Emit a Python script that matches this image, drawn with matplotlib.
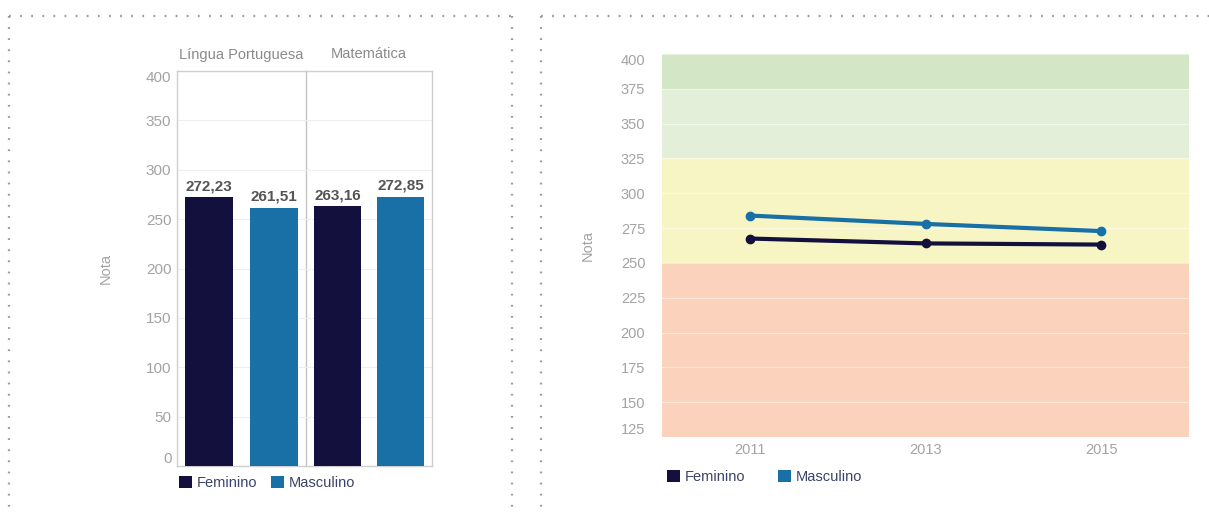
import matplotlib
matplotlib.use("Agg")
import matplotlib.pyplot as plt
from matplotlib.lines import Line2D
from matplotlib.patches import Patch

plt.rcParams['font.family'] = ['Liberation Sans', 'DejaVu Sans']

# ---- data ----
subjects = ['Língua Portuguesa', 'Matemática']
sexes = ['Feminino', 'Masculino']
feminino_bar = [272.23, 263.16]
masculino_bar = [261.51, 272.85]

years = [2011, 2013, 2015]
feminino_line = [267.5, 264.0, 263.16]
masculino_line = [284.0, 278.0, 272.85]

bar_yticks = [0, 50, 100, 150, 200, 250, 300, 350, 400]
line_yticks = [125, 150, 175, 200, 225, 250, 275, 300, 325, 350, 375, 400]
band_edges = [125, 250, 325, 375, 400]
band_colors = ['#fbd3bd', '#f8f5c5', '#e3efd9', '#d3e7c6']

c_fem = '#14103d'
c_mas = '#1870a7'
tick_col = '#a3a3a3'
head_col = '#8a8a8a'

W, H = 1209, 516
fig = plt.figure(figsize=(W / 100, H / 100), dpi=100)


def ax_px(x0, y0, x1, y1):
    return fig.add_axes([x0 / W, 1 - y1 / H, (x1 - x0) / W, (y1 - y0) / H])


def end_labels(ax):
    ticks = ax.yaxis.get_major_ticks()
    ticks[0].label1.set_va('bottom')
    ticks[-1].label1.set_va('top')


# ---- dotted panel borders ----
dot = dict(color='#9a9a9a', linewidth=1.6, linestyle=(0, (0.8, 4.2)), transform=None)
def px_line(xs, ys):
    fig.add_artist(Line2D([x for x in xs], [H - y for y in ys], **dot))

px_line([9, 512], [16, 16])
px_line([9, 9], [16, 516])
px_line([512, 512], [16, 516])
px_line([541, 1209], [16, 16])
px_line([541, 541], [16, 516])

# ---- left: faceted bar chart ----
facets = [(177, 306), (306, 432)]
bar_axes = []
for i, (x0, x1) in enumerate(facets):
    ax = ax_px(x0, 71, x1, 466)
    bar_axes.append(ax)
    vals = [feminino_bar[i], masculino_bar[i]]
    bars = ax.bar([0, 1], vals, width=0.75, color=[c_fem, c_mas], zorder=3)
    for b, v in zip(bars, vals):
        ax.text(b.get_x() + b.get_width() / 2, v + 4, f"{v:.2f}".replace('.', ','),
                ha='center', va='bottom', fontsize=11, fontweight='bold', color='#555555')
    ax.set_xlim(-0.5, 1.5)
    ax.set_ylim(0, 400)
    ax.set_yticks(bar_yticks)
    ax.yaxis.grid(True, color='#efefef', linewidth=0.8, zorder=0)
    ax.set_xticks([])
    for s in ax.spines.values():
        s.set_color('#cfcfcf')
        s.set_linewidth(1.0)
    ax.tick_params(axis='y', length=0, colors=tick_col, labelsize=11, pad=4)
    ax.set_title(subjects[i], fontsize=10.5, color=head_col, pad=9)
    if i == 0:
        end_labels(ax)
        ax.set_ylabel('Nota', fontsize=10.5, color=tick_col, labelpad=24)
        ax.spines['right'].set_color('#c4c4c4')
        ax.spines['right'].set_zorder(5)
    else:
        ax.patch.set_visible(False)
        ax.tick_params(axis='y', labelleft=False)
        ax.spines['left'].set_visible(False)

leg_handles = [Patch(facecolor=c_fem, edgecolor='none'), Patch(facecolor=c_mas, edgecolor='none')]
bar_axes[0].legend(leg_handles, sexes, loc='upper left', bbox_to_anchor=(-0.03, -0.01),
                   frameon=False, ncol=2, fontsize=10.5, handlelength=0.9, handleheight=0.9,
                   handletextpad=0.35, columnspacing=0.9, labelcolor='#3b4468', borderaxespad=0)

# ---- right: line chart with performance bands ----
ax2 = ax_px(662, 54, 1189, 437)
for lo, hi, col in zip(band_edges[:-1], band_edges[1:], band_colors):
    ax2.axhspan(lo, hi, color=col, zorder=0, linewidth=0)
ax2.set_xlim(2010, 2016)
ax2.set_ylim(125, 400)
ax2.set_yticks(line_yticks)
ax2.set_xticks(years)
ax2.yaxis.grid(True, color='white', linewidth=0.8, alpha=0.45, zorder=1)
for s in ax2.spines.values():
    s.set_visible(False)
ax2.tick_params(axis='y', length=0, colors=tick_col, labelsize=10.5, pad=12)
ax2.tick_params(axis='x', length=0, colors=tick_col, labelsize=10.5, pad=4)
end_labels(ax2)
ax2.plot(years, feminino_line, color=c_fem, linewidth=3, marker='o', markersize=6, zorder=3)
ax2.plot(years, masculino_line, color=c_mas, linewidth=3, marker='o', markersize=6, zorder=3)
ax2.set_ylabel('Nota', fontsize=10.5, color=tick_col, labelpad=19)

ax2.legend(leg_handles, sexes, loc='upper left', bbox_to_anchor=(-0.002, -0.07),
           frameon=False, ncol=2, fontsize=10.5, handlelength=0.9, handleheight=0.9,
           handletextpad=0.35, columnspacing=2.2, labelcolor='#3b4468', borderaxespad=0)

fig.savefig('out.png', dpi=100)
